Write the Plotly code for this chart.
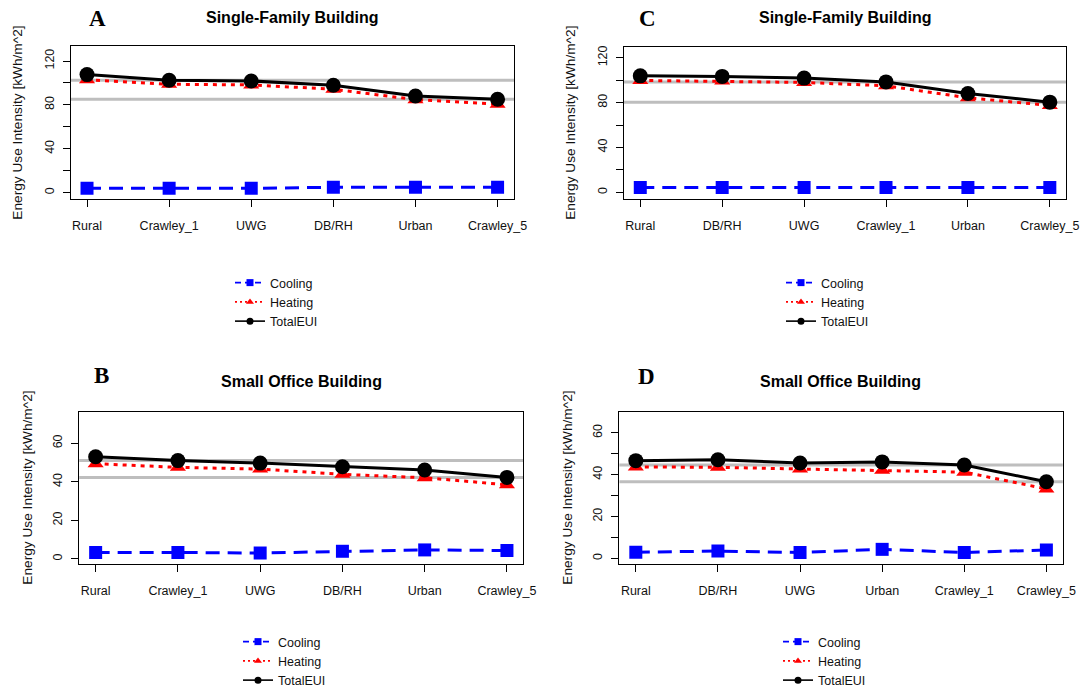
import plotly.graph_objects as go

# ---------------- data ----------------
cats_A = ["Rural", "Crawley_1", "UWG", "DB/RH", "Urban", "Crawley_5"]
cool_A = [4.0, 4.0, 4.0, 4.9, 4.9, 4.9]
heat_A = [103.0, 98.8, 98.2, 94.3, 84.8, 80.6]
total_A = [107.6, 102.5, 101.8, 97.9, 88.1, 85.2]

cats_C = ["Rural", "DB/RH", "UWG", "Crawley_1", "Urban", "Crawley_5"]
cool_C = [4.3, 4.3, 4.3, 4.3, 4.3, 4.3]
heat_C = [99.8, 99.2, 98.0, 95.0, 84.3, 77.5]
total_C = [103.9, 103.4, 101.9, 98.5, 88.2, 80.4]

cats_B = ["Rural", "Crawley_1", "UWG", "DB/RH", "Urban", "Crawley_5"]
cool_B = [3.3, 3.4, 3.1, 4.0, 4.7, 4.4]
heat_B = [49.4, 47.5, 46.6, 43.9, 42.1, 38.5]
total_B = [53.0, 51.0, 49.7, 47.8, 46.1, 42.3]

cats_D = ["Rural", "DB/RH", "UWG", "Urban", "Crawley_1", "Crawley_5"]
cool_D = [2.9, 3.5, 2.8, 4.3, 2.8, 4.0]
heat_D = [43.7, 43.5, 42.7, 42.1, 41.2, 33.2]
total_D = [46.7, 47.1, 45.6, 46.1, 44.6, 36.6]

series_names = ["Cooling", "Heating", "TotalEUI"]
ref_cats = ["Crawley_1", "Crawley_5"]  # grey reference lines at these TotalEUI values

# ---------------- styling ----------------
FONT = "Liberation Sans, Arial, sans-serif"
W, H = 1081, 692

styles = {
    "Cooling": dict(color="#0000FF", dash="14px,8px", symbol="square", size=13),
    "Heating": dict(color="#FF0000", dash="4px,5px", symbol="triangle-up", size=14),
    "TotalEUI": dict(color="#000000", dash="solid", symbol="circle", size=15),
}
legend_dash = {"Cooling": "6px,4px", "Heating": "2px,3px", "TotalEUI": "solid"}

panels = [
    dict(letter="A", title="Single-Family Building", cats=cats_A, vals=[cool_A, heat_A, total_A],
         ax="", leg="legend", xd=(70.6, 514.0), yd=(46.3, 198.5), yr=(-5.3, 133.4),
         tv=list(range(0, 121, 20)), lab=[0, 40, 80, 120],
         letter_xy=(97, 18), title_xy=(292.3, 17.3), ytitle_x=17.3, legend_xy=(230, 268)),
    dict(letter="C", title="Single-Family Building", cats=cats_C, vals=[cool_C, heat_C, total_C],
         ax="2", leg="legend2", xd=(623.9, 1066.2), yd=(46.7, 199.0), yr=(-6.0, 129.9),
         tv=list(range(0, 121, 20)), lab=[0, 40, 80, 120],
         letter_xy=(647, 18), title_xy=(845, 17.3), ytitle_x=571, legend_xy=(781, 268)),
    dict(letter="B", title="Small Office Building", cats=cats_B, vals=[cool_B, heat_B, total_B],
         ax="3", leg="legend3", xd=(79.2, 523.4), yd=(412.0, 564.0), yr=(-2.6, 76.2),
         tv=list(range(0, 61, 20)), lab=[0, 20, 40, 60],
         letter_xy=(101.6, 375), title_xy=(301.3, 381.7), ytitle_x=26.7, legend_xy=(238, 627)),
    dict(letter="D", title="Small Office Building", cats=cats_D, vals=[cool_D, heat_D, total_D],
         ax="4", leg="legend4", xd=(619.4, 1062.8), yd=(412.3, 564.0), yr=(-2.7, 69.8),
         tv=list(range(0, 61, 10)), lab=[0, 20, 40, 60],
         letter_xy=(646.6, 376.7), title_xy=(840.9, 381.7), ytitle_x=567.6, legend_xy=(778, 627)),
]

fig = go.Figure()
layout = dict(
    width=W, height=H, margin=dict(l=0, r=0, t=0, b=0, autoexpand=False),
    paper_bgcolor="white", plot_bgcolor="white",
    font=dict(family=FONT, size=12.5, color="#111111"),
    annotations=[], shapes=[], showlegend=True,
)


def px_x(v):
    return v / W


def px_y(v):
    return 1 - v / H


for p in panels:
    xa = "x" + p["ax"]
    ya = "y" + p["ax"]
    for name, vals in zip(series_names, p["vals"]):
        st = styles[name]
        fig.add_trace(go.Scatter(
            x=p["cats"], y=vals, mode="lines+markers", name=name,
            xaxis=xa, yaxis=ya, showlegend=False,
            line=dict(color=st["color"], width=3, dash=st["dash"]),
            marker=dict(color=st["color"], symbol=st["symbol"], size=st["size"]),
        ))
    for name in series_names:
        st = styles[name]
        fig.add_trace(go.Scatter(
            x=[None], y=[None], mode="lines+markers", name=name,
            xaxis=xa, yaxis=ya, showlegend=True, legend=p["leg"],
            line=dict(color=st["color"], width=1.6, dash=legend_dash[name]),
            marker=dict(color=st["color"], symbol=st["symbol"], size=7),
        ))
    total = p["vals"][2]
    for rc in ref_cats:
        yv = total[p["cats"].index(rc)]
        layout["shapes"].append(dict(
            type="line", xref=xa + " domain", yref=ya, x0=0, x1=1, y0=yv, y1=yv,
            line=dict(color="#BEBEBE", width=3), layer="below"))

    axx = "xaxis" + p["ax"]
    axy = "yaxis" + p["ax"]
    layout[axx] = dict(
        domain=[px_x(p["xd"][0]), px_x(p["xd"][1])], anchor=ya,
        type="category", categoryorder="array", categoryarray=p["cats"],
        range=[-0.2, 5.2], showgrid=False, zeroline=False,
        showline=True, mirror=True, linecolor="#000000", linewidth=1,
        ticks="outside", ticklen=7, tickcolor="#000000", tickwidth=1,
        tickfont=dict(size=12.5, family=FONT, color="#111111"),
        ticklabelstandoff=8,
    )
    layout[axy] = dict(
        domain=[px_y(p["yd"][1]), px_y(p["yd"][0])], anchor=xa,
        range=list(p["yr"]), showgrid=False, zeroline=False,
        showline=True, mirror=True, linecolor="#000000", linewidth=1,
        ticks="outside", ticklen=7, tickcolor="#000000", tickwidth=1,
        tickvals=p["tv"], ticktext=[str(v) if v in p["lab"] else "" for v in p["tv"]],
        tickangle=-90, tickfont=dict(size=12.5, family=FONT, color="#111111"),
        ticklabelstandoff=4,
    )
    layout["annotations"].append(dict(
        text="<b>" + p["letter"] + "</b>", x=px_x(p["letter_xy"][0]), y=px_y(p["letter_xy"][1]),
        xref="paper", yref="paper", showarrow=False, xanchor="center", yanchor="middle",
        font=dict(family="Liberation Serif, Times New Roman, serif", size=23, color="#000000")))
    layout["annotations"].append(dict(
        text="<b>" + p["title"] + "</b>", x=px_x(p["title_xy"][0]), y=px_y(p["title_xy"][1]),
        xref="paper", yref="paper", showarrow=False, xanchor="center", yanchor="middle",
        font=dict(family=FONT, size=16, color="#000000")))
    layout["annotations"].append(dict(
        text="Energy Use Intensity [kWh/m^2]", textangle=-90,
        x=px_x(p["ytitle_x"]), y=px_y((p["yd"][0] + p["yd"][1]) / 2),
        xref="paper", yref="paper", showarrow=False, xanchor="center", yanchor="middle",
        font=dict(family=FONT, size=13.7, color="#111111")))
    layout[p["leg"]] = dict(
        x=px_x(p["legend_xy"][0]), y=px_y(p["legend_xy"][1]), xanchor="left", yanchor="top",
        bgcolor="rgba(0,0,0,0)", borderwidth=0, font=dict(family=FONT, size=12.5, color="#111111"),
        tracegroupgap=0, itemclick=False, itemdoubleclick=False,
    )

fig.update_layout(**layout)
fig.write_html("out.html", config={"displayModeBar": False},
               post_script="document.body.style.margin='0px';")
